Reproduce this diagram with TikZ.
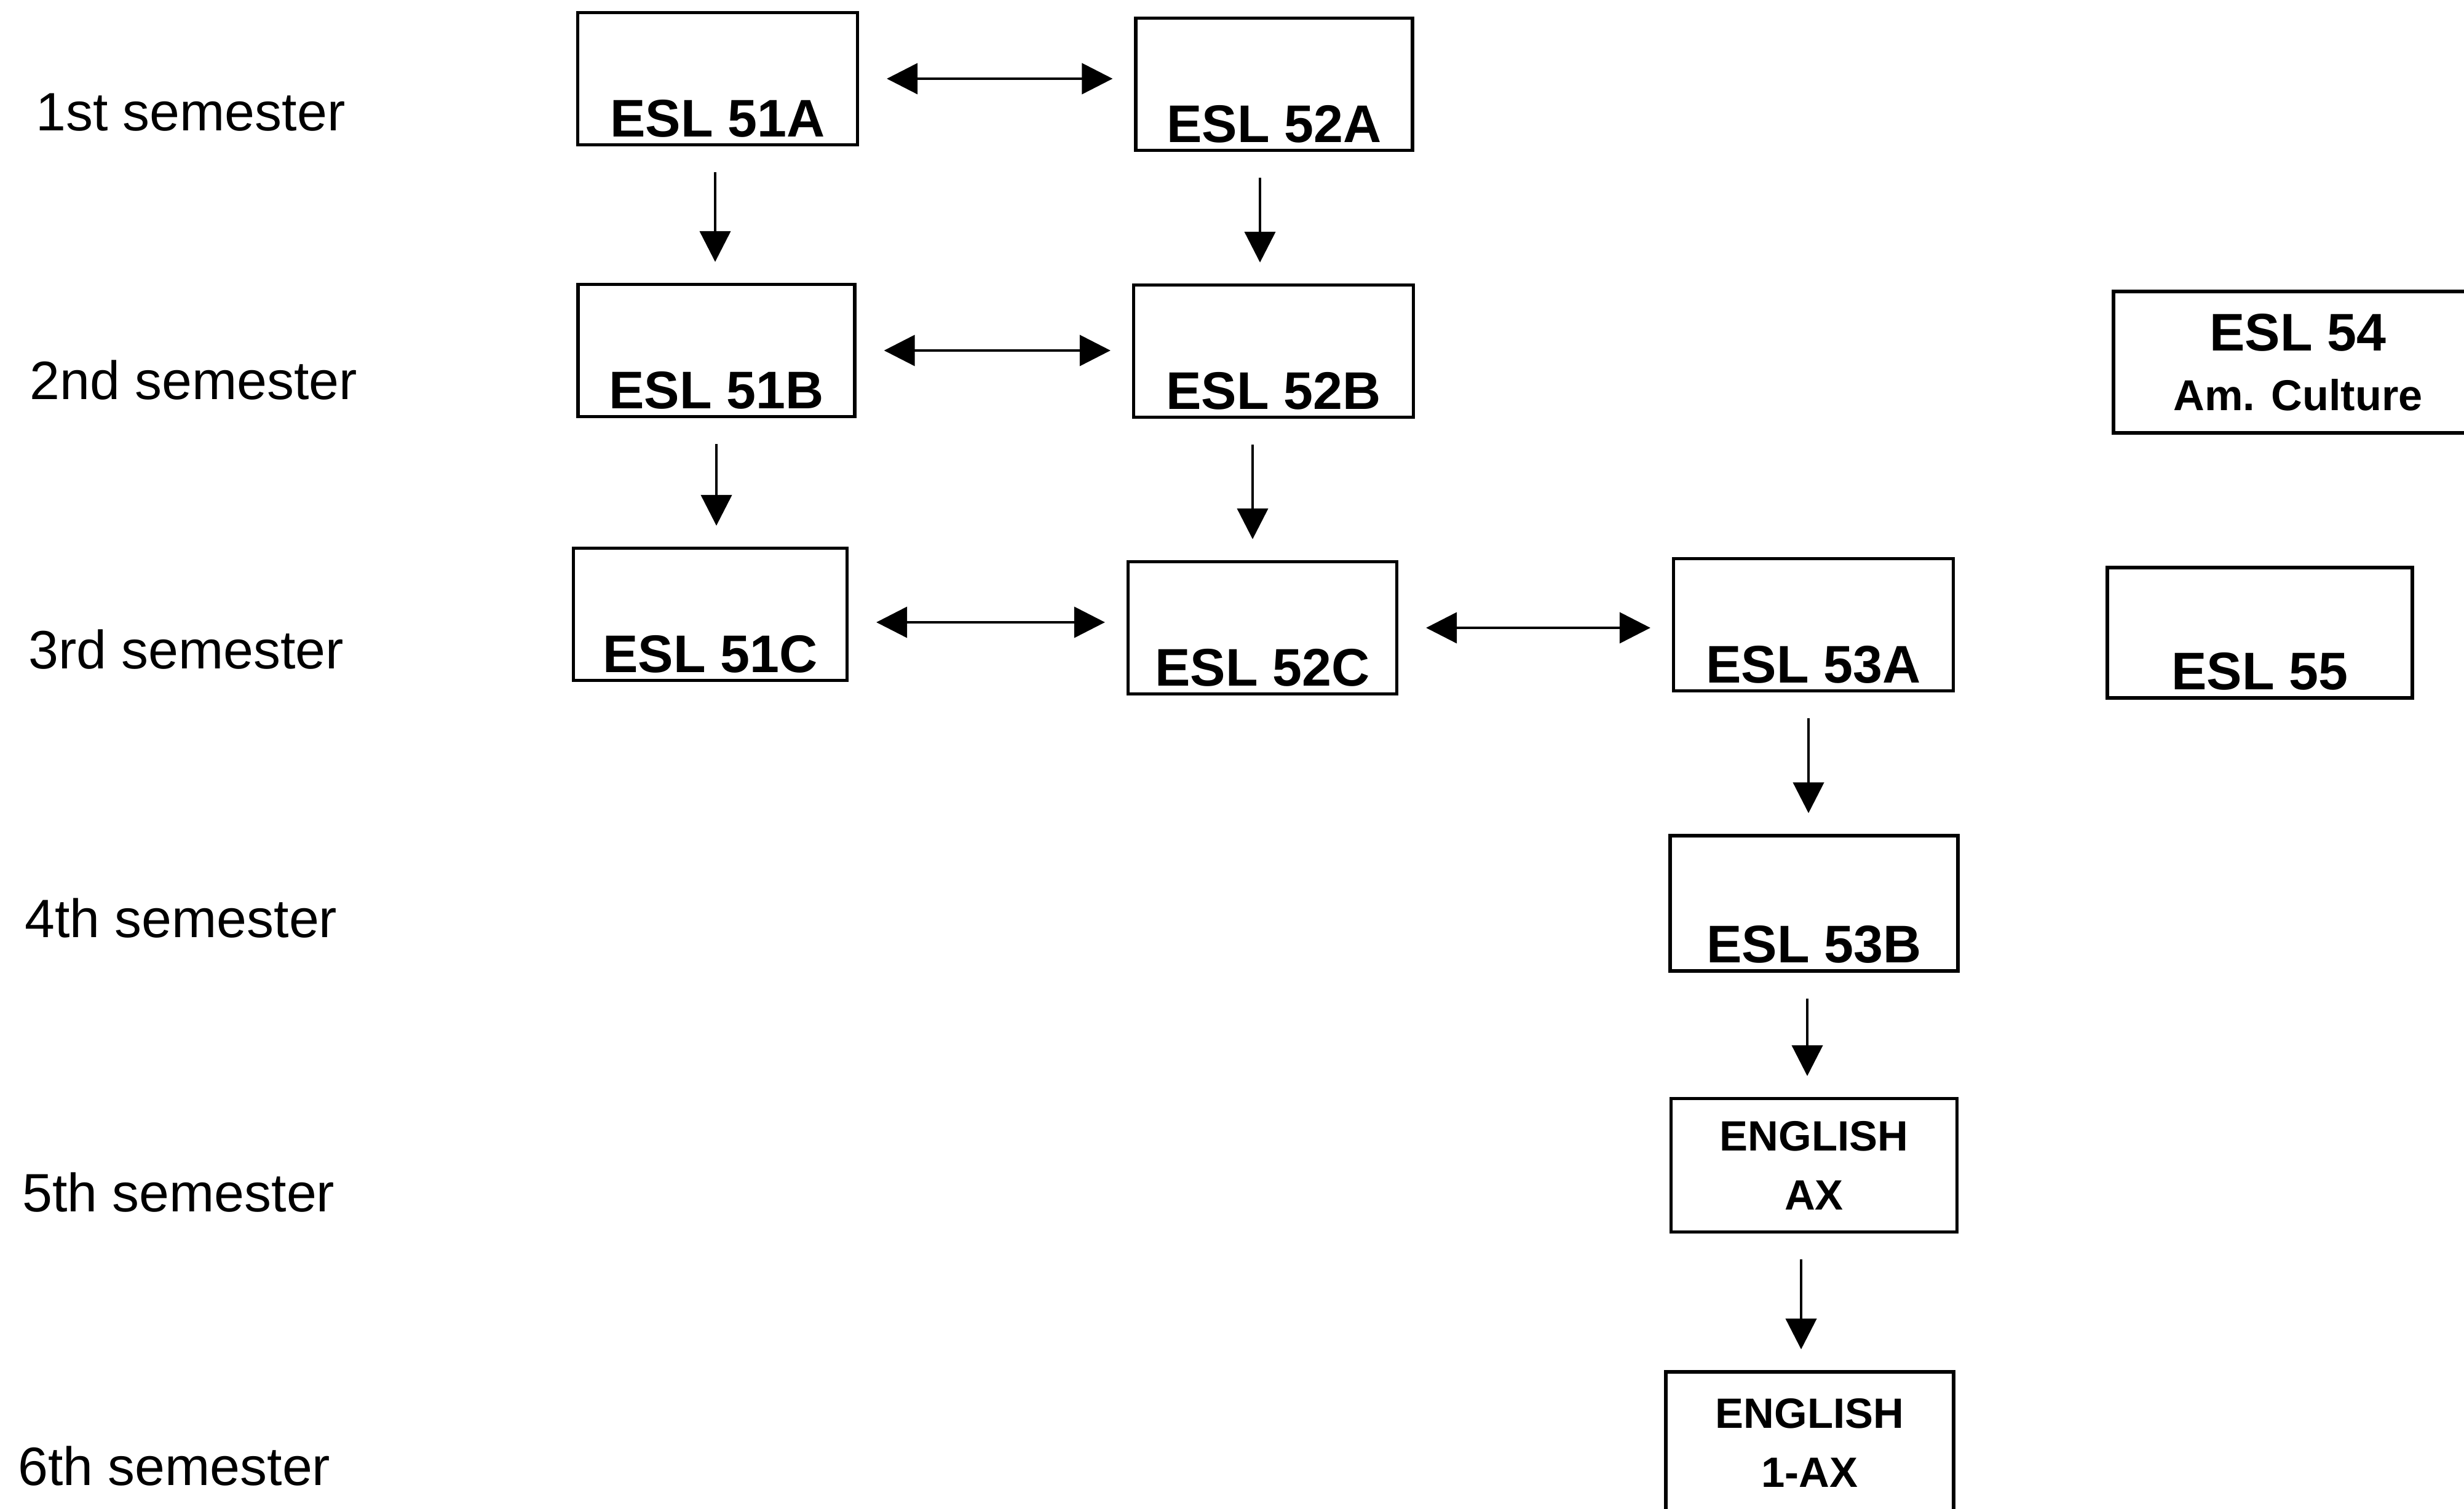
\documentclass[tikz,border=0pt]{standalone}
\usepackage{fontspec}
\setmainfont{Liberation Sans}
\usetikzlibrary{arrows.meta}

\tikzset{
  course/.style={draw,line width=1.5pt,inner sep=0pt,
    font=\bfseries\fontsize{24.5}{29}\selectfont,
    minimum width=4.55cm,text height=2.02cm,text depth=0.13cm},
  course2/.style={draw,line width=1.5pt,inner sep=0pt,align=center,
    minimum width=4.65cm,minimum height=2.17cm},
  sem/.style={anchor=base west,font=\fontsize{25}{30}\selectfont},
  down/.style={-{Triangle[length=0.5cm,width=0.5cm]},line width=1.2pt,
    shorten <=0.42cm,shorten >=0.34cm},
  both/.style={{Triangle[length=0.5cm,width=0.5cm]}-{Triangle[length=0.5cm,width=0.5cm]},
    line width=1.2pt,shorten <=0.45cm,shorten >=0.35cm}
}

\begin{document}
\begin{tikzpicture}
  \useasboundingbox (0,0) rectangle (40.07,24.53);

  % Semesters down the left side.
  \foreach \i/\xx/\yy/\lab in {1/0.46/22.40/1st,2/0.36/18.03/2nd,3/0.34/13.65/3rd,
      4/0.28/9.28/4th,5/0.24/4.83/5th,6/0.17/0.38/6th}{
    \node[sem] (sem\i) at (\xx,\yy) {\lab\ semester};
  }

  % Course boxes.
  \node[course] (a51) at (11.67,23.25) {ESL 51A};
  \node[course,minimum width=4.50cm] (a52) at (20.72,23.16) {ESL 52A};
  \node[course,minimum width=4.50cm] (b51) at (11.65,18.83) {ESL 51B};
  \node[course] (b52) at (20.71,18.82) {ESL 52B};
  \node[course,minimum width=4.45cm] (c51) at (11.55,14.54) {ESL 51C};
  \node[course,minimum width=4.37cm] (c52) at (20.53,14.32) {ESL 52C};
  \node[course] (a53) at (29.49,14.37) {ESL 53A};
  \node[course,minimum width=4.68cm,text height=2.07cm] (b53) at (29.50,9.84) {ESL 53B};
  \node[course,minimum width=4.96cm,text height=1.99cm] (e55) at (36.75,14.24) {ESL 55};

  \node[course2,minimum width=6.0cm,minimum height=2.30cm,
    font=\bfseries\fontsize{20}{27.5}\selectfont] (e54) at (37.37,18.64)
    {{\fontsize{24.5}{27.5}\selectfont ESL 54}\\Am. Culture};
  \node[course2,font=\bfseries\fontsize{19.6}{27.3}\selectfont] (engax) at (29.50,5.58)
    {ENGLISH\\AX};
  \node[course2,minimum width=4.68cm,minimum height=2.30cm,
    font=\bfseries\fontsize{19.6}{27.3}\selectfont] (eng1) at (29.43,1.07)
    {ENGLISH\\1-AX};

  % Sideways links.
  \draw[both] (a51.east) -- (a51.east -| a52.west);
  \draw[both] (b51.east) -- (b51.east -| b52.west);
  \draw[both] ([yshift=-0.13cm]c51.east) -- ([yshift=-0.13cm]c51.east -| c52.west);
  \draw[both] (c52.east) -- (c52.east -| a53.west);

  % Going down a semester.
  \draw[down] ([xshift=-0.04cm]a51.south) -- ([xshift=-0.04cm]a51.south |- b51.north);
  \draw[down] ([xshift=-0.23cm]a52.south) -- ([xshift=-0.23cm]a52.south |- b52.north);
  \draw[down] (b51.south) -- (b51.south |- c51.north);
  \draw[down] ([xshift=-0.34cm]b52.south) -- ([xshift=-0.34cm]b52.south |- c52.north);
  \draw[down] ([xshift=-0.08cm]a53.south) -- ([xshift=-0.08cm]a53.south |- b53.north);
  \draw[down] ([xshift=-0.11cm]b53.south) -- ([xshift=-0.11cm]b53.south |- engax.north);
  \draw[down] ([xshift=-0.21cm]engax.south) -- ([xshift=-0.21cm]engax.south |- eng1.north);
\end{tikzpicture}
\end{document}
